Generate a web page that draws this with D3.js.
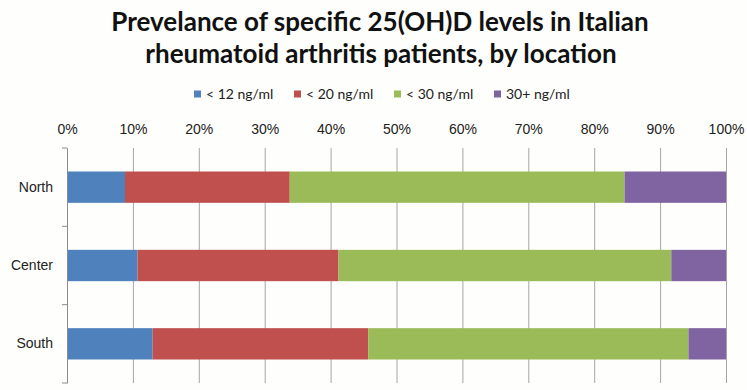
<!DOCTYPE html>
<meta charset="utf-8">
<style>
body { margin: 0; background: #fefefc; }
svg { font-family: Lato, "Open Sans", sans-serif; }
.title { font-size: 26px; font-weight: bold; fill: #111; }
.tick text { font-size: 14px; fill: #222; }
.legend text { font-size: 14px; fill: #222; }
</style>
<script src="https://cdn.jsdelivr.net/npm/d3@7"></script>
<svg width="747" height="390"></svg>
<script>

var locations = ["North", "Center", "South"];
var levels = ["< 12 ng/ml", "< 20 ng/ml", "< 30 ng/ml", "30+ ng/ml"];
var below12 = [8.8, 10.7, 13.0];
var below20 = [25.0, 30.5, 32.7];
var below30 = [50.8, 50.5, 48.6];
var above30 = [15.4, 8.3, 5.7];
var xTicks = [0, 10, 20, 30, 40, 50, 60, 70, 80, 90, 100];

var colors = ["#4f81bd", "#c0504d", "#9bbb59", "#8064a2"];

var svg = d3.select("svg");

var rows = locations.map(function(loc, i) {
    var r = { loc: loc };
    r[levels[0]] = below12[i];
    r[levels[1]] = below20[i];
    r[levels[2]] = below30[i];
    r[levels[3]] = above30[i];
    return r;
});

var x = d3.scaleLinear().domain([0, 100]).range([67, 726]);
var y = d3.scaleBand().domain(locations).range([148, 383])
    .paddingInner(0.6).paddingOuter(0.3);
var color = d3.scaleOrdinal().domain(levels).range(colors);

// title
svg.append("text").attr("class", "title")
    .attr("x", 380).attr("y", 31).attr("text-anchor", "middle")
    .text("Prevelance of specific 25(OH)D levels in Italian");
svg.append("text").attr("class", "title")
    .attr("x", 381).attr("y", 63).attr("text-anchor", "middle")
    .text("rheumatoid arthritis patients, by location");

// legend
var legend = svg.append("g").attr("class", "legend")
    .selectAll("g").data(levels).enter().append("g")
    .attr("transform", function(d, i) { return "translate(" + (194 + i * 100) + ",94)"; });
legend.append("rect").attr("y", -3.5).attr("width", 7).attr("height", 7)
    .attr("fill", function(d) { return color(d); });
legend.append("text").attr("x", 12).attr("dy", "0.35em").text(function(d) { return d; });

// gridlines + top axis
var gx = svg.append("g").attr("transform", "translate(0,148)")
    .call(d3.axisTop(x).tickValues(xTicks).tickSize(6).tickPadding(8)
        .tickFormat(function(d) { return d + "%"; }));
gx.select(".domain").remove();
gx.selectAll(".tick line").attr("stroke", "#a6a6a6").attr("y2", 235);

// bars
var series = d3.stack().keys(levels)(rows);
svg.append("g").selectAll("g").data(series).enter().append("g")
    .attr("fill", function(d) { return color(d.key); })
    .selectAll("rect").data(function(d) { return d; }).enter().append("rect")
    .attr("x", function(d) { return x(d[0]); })
    .attr("width", function(d) { return x(d[1]) - x(d[0]); })
    .attr("y", function(d) { return y(d.data.loc); })
    .attr("height", y.bandwidth());

// left axis
var gy = svg.append("g").attr("transform", "translate(67,0)")
    .call(d3.axisLeft(y).tickSize(0).tickPadding(14));
gy.select(".domain").attr("stroke", "#8c8c8c");
var bounds = [148].concat(locations.map(function(d) { return y(d) + y.bandwidth() + y.step() * 0.3; }));
gy.selectAll(".sep").data(bounds).enter().append("line")
    .attr("x1", -5).attr("x2", 0)
    .attr("y1", function(d) { return d; }).attr("y2", function(d) { return d; })
    .attr("stroke", "#8c8c8c");

</script>
